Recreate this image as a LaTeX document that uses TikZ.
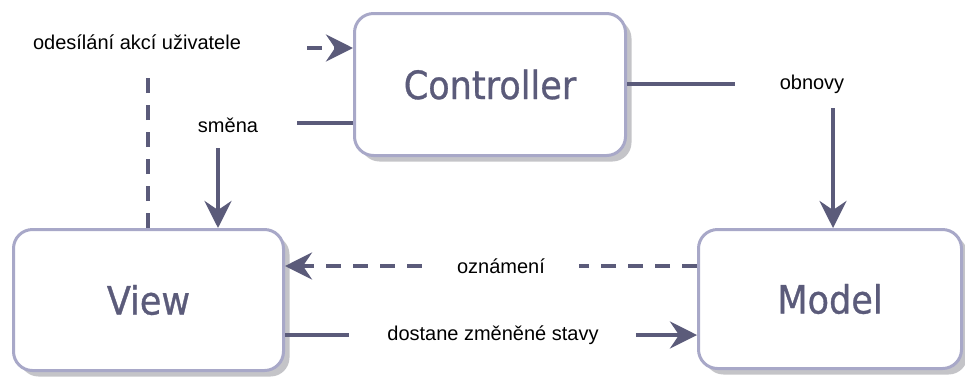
\documentclass[tikz,border=0pt]{standalone}
\usepackage{fontspec}
\setmainfont{Liberation Sans}
\newfontfamily\blockfont[FakeBold=0.8]{DejaVu Sans Condensed}
\usetikzlibrary{arrows.meta,shadows}

\definecolor{lineC}{HTML}{5B5B7A}
\definecolor{frameC}{HTML}{A8A8C8}
\definecolor{shadeC}{HTML}{C4C4C8}

\begin{document}
\begin{tikzpicture}
	[
	x=1pt, y=-1pt,
	block/.style={rectangle,rounded corners=19pt,draw=frameC,line width=3pt,fill=white,
		text=lineC,font=\blockfont\fontsize{39}{42}\selectfont,
		drop shadow={shadow xshift=6pt,shadow yshift=-6pt,fill=shadeC,opacity=1}},
	note/.style={font=\fontsize{20}{22}\selectfont,inner sep=0pt},
	flow/.style={draw=lineC,line width=4pt},
	dashes/.style={dash pattern=on 15pt off 12pt},
	tip/.style={-{Stealth[length=27pt,width=27pt,inset=9pt]}},
	]
	\useasboundingbox (0,0) rectangle (965,376);

	\node[block,minimum width=271pt,minimum height=142pt] (controller) at (490,84.5) {Controller};
	\node[block,minimum width=270pt,minimum height=141pt] (view) at (148.5,300) {View};
	\node[block,minimum width=263pt,minimum height=139pt] (model) at (830,299) {Model};

	\node[note] (send) at (137,42) {odesílání akcí uživatele};
	\node[note] (swap) at (228,125) {směna};
	\node[note] (update) at (812,84) {obnovy};
	\node[note] (notice) at (501,266) {oznámení};
	\node[note] (state) at (493,335) {dostane změněné stavy};

	% user actions: view -> controller
	\coordinate (sendUp) at (148,78);
	\coordinate (sendIn) at (307,48);
	\draw[flow,dashes] (view.north -| sendUp) -- (sendUp);
	\draw[flow,dashes,tip] (sendIn) -- (controller.west |- sendIn);

	% controller changes the view
	\coordinate (swapOut) at (297,123);
	\coordinate (swapDown) at (218,148);
	\draw[flow] (controller.west |- swapOut) -- (swapOut);
	\draw[flow,tip] (swapDown) -- (view.north -| swapDown);

	% controller updates the model
	\coordinate (updOut) at (735,84);
	\coordinate (updDown) at (833,108);
	\draw[flow] (controller.east |- updOut) -- (updOut);
	\draw[flow,tip] (updDown) -- (model.north -| updDown);

	% model notifies the view
	\draw[flow,dashes] (model.west |- notice) -- ([xshift=34pt]notice.east);
	\draw[flow,dashes,tip] ([xshift=-35pt]notice.west) -- (view.east |- notice);

	% view reads the changed state
	\draw[flow] (view.east |- state) -- ([xshift=-38pt]state.west);
	\draw[flow,tip] ([xshift=37pt]state.east) -- (model.west |- state);
\end{tikzpicture}
\end{document}
